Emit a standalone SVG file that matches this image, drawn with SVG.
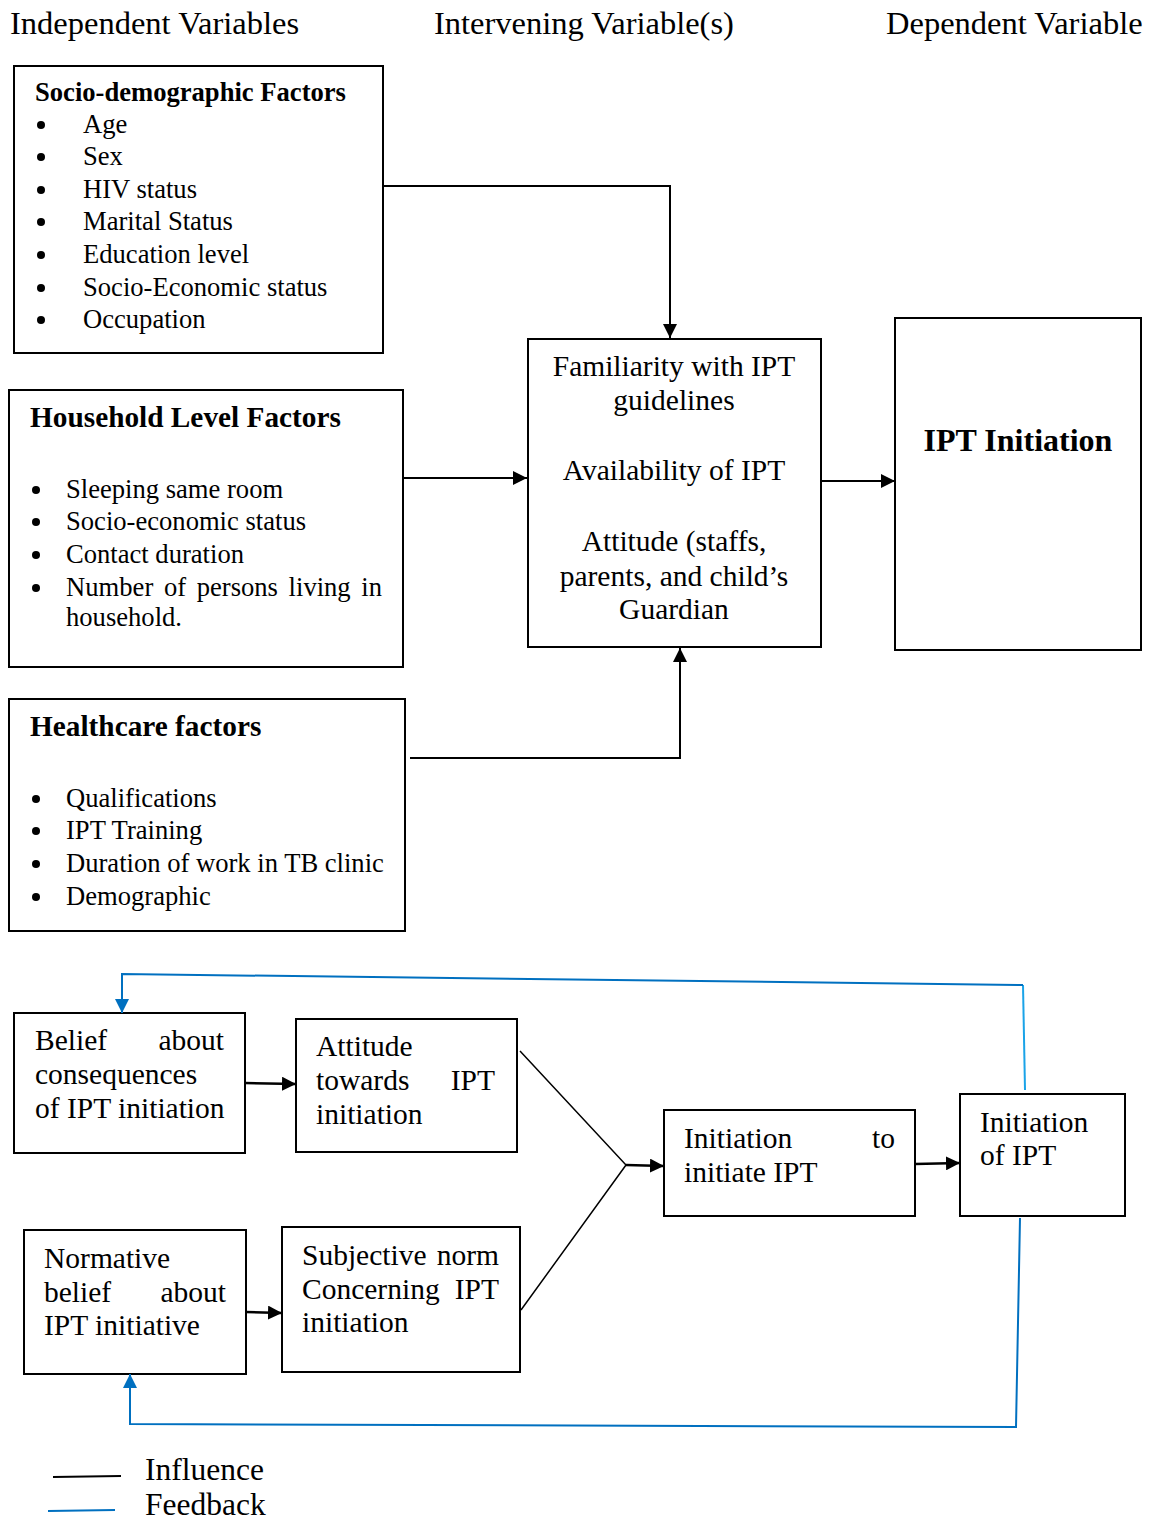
<svg xmlns="http://www.w3.org/2000/svg" width="1157" height="1519" viewBox="0 0 1157 1519">
<style>
text{font-family:"Liberation Serif","Times New Roman",serif;fill:#000}
.h{font-size:32.5px}
.t{font-size:26.6px}
.b{font-size:26.6px;font-weight:bold}
.b2{font-size:29.3px;font-weight:bold}
.c{font-size:29.5px}
.box{fill:#fff;stroke:#000;stroke-width:2}
.ln{fill:none;stroke:#000;stroke-width:2}
.fb{fill:none;stroke:#0070c0;stroke-width:2}
.fb2{fill:none;stroke:#1aa3e8;stroke-width:2}
.e{text-anchor:end}
</style>
<defs>
<marker id="ahk" viewBox="0 0 10 10" refX="10" refY="5" markerWidth="14" markerHeight="14" markerUnits="userSpaceOnUse" orient="auto"><path d="M0,0 L10,5 L0,10 z" fill="#000"/></marker>
<marker id="ahb" viewBox="0 0 10 10" refX="10" refY="5" markerWidth="14" markerHeight="14" markerUnits="userSpaceOnUse" orient="auto"><path d="M0,0 L10,5 L0,10 z" fill="#0070c0"/></marker>
</defs>

<g id="headers">
<text class="h" x="10" y="34">Independent Variables</text>
<text class="h" x="434" y="34">Intervening Variable(s)</text>
<text class="h" x="886" y="34">Dependent Variable</text>
</g>

<g id="socio">
<rect class="box" x="14" y="66" width="369" height="287"/>
<text class="b" x="35" y="101">Socio-demographic Factors</text>
<circle cx="41" cy="125" r="4"/><text class="t" x="83" y="133">Age</text>
<circle cx="41" cy="157" r="4"/><text class="t" x="83" y="165">Sex</text>
<circle cx="41" cy="190" r="4"/><text class="t" x="83" y="198">HIV status</text>
<circle cx="41" cy="222" r="4"/><text class="t" x="83" y="230">Marital Status</text>
<circle cx="41" cy="255" r="4"/><text class="t" x="83" y="263">Education level</text>
<circle cx="41" cy="288" r="4"/><text class="t" x="83" y="296">Socio-Economic status</text>
<circle cx="41" cy="320" r="4"/><text class="t" x="83" y="328">Occupation</text>
</g>

<g id="household">
<rect class="box" x="9" y="390" width="394" height="277"/>
<text class="b2" x="30" y="427">Household Level Factors</text>
<circle cx="36" cy="490" r="4"/><text class="t" x="66" y="498">Sleeping same room</text>
<circle cx="36" cy="522" r="4"/><text class="t" x="66" y="530">Socio-economic status</text>
<circle cx="36" cy="555" r="4"/><text class="t" x="66" y="563">Contact duration</text>
<circle cx="36" cy="588" r="4"/>
<text class="t" x="382" y="596" text-anchor="end" word-spacing="4">Number of persons living in</text>
<text class="t" x="66" y="626">household.</text>
</g>

<g id="healthcare">
<rect class="box" x="9" y="699" width="396" height="232"/>
<text class="b2" x="30" y="736">Healthcare factors</text>
<circle cx="36" cy="799" r="4"/><text class="t" x="66" y="807">Qualifications</text>
<circle cx="36" cy="831" r="4"/><text class="t" x="66" y="839">IPT Training</text>
<circle cx="36" cy="864" r="4"/><text class="t" x="66" y="872">Duration of work in TB clinic</text>
<circle cx="36" cy="897" r="4"/><text class="t" x="66" y="905">Demographic</text>
</g>

<g id="intervening">
<rect class="box" x="528" y="339" width="293" height="308"/>
<g text-anchor="middle">
<text class="c" x="674" y="376">Familiarity with IPT</text>
<text class="c" x="674" y="410">guidelines</text>
<text class="c" x="674" y="480">Availability of IPT</text>
<text class="c" x="674" y="551">Attitude (staffs,</text>
<text class="c" x="674" y="586">parents, and child’s</text>
<text class="c" x="674" y="619">Guardian</text>
</g>
</g>

<g id="dependent">
<rect class="box" x="895" y="318" width="246" height="332"/>
<text x="1018" y="451" text-anchor="middle" style="font-size:32px;font-weight:bold">IPT Initiation</text>
</g>

<g id="belief">
<rect class="box" x="14" y="1013" width="231" height="140"/>
<text class="c" x="35" y="1050">Belief</text><text class="c e" x="224" y="1050">about</text>
<text class="c" x="35" y="1084">consequences</text>
<text class="c" x="35" y="1118">of IPT initiation</text>
</g>

<g id="attitude">
<rect class="box" x="296" y="1019" width="221" height="133"/>
<text class="c" x="316" y="1056">Attitude</text>
<text class="c" x="316" y="1090">towards</text><text class="c e" x="495" y="1090">IPT</text>
<text class="c" x="316" y="1124">initiation</text>
</g>

<g id="normative">
<rect class="box" x="24" y="1230" width="222" height="144"/>
<text class="c" x="44" y="1268">Normative</text>
<text class="c" x="44" y="1302">belief</text><text class="c e" x="226" y="1302">about</text>
<text class="c" x="44" y="1335">IPT initiative</text>
</g>

<g id="subjective">
<rect class="box" x="282" y="1227" width="238" height="145"/>
<text class="c" x="302" y="1265">Subjective</text><text class="c e" x="499" y="1265">norm</text>
<text class="c" x="302" y="1299">Concerning</text><text class="c e" x="499" y="1299">IPT</text>
<text class="c" x="302" y="1332">initiation</text>
</g>

<g id="intention">
<rect class="box" x="664" y="1110" width="251" height="106"/>
<text class="c" x="684" y="1148">Initiation</text><text class="c e" x="895" y="1148">to</text>
<text class="c" x="684" y="1182">initiate IPT</text>
</g>

<g id="initiation">
<rect class="box" x="960" y="1094" width="165" height="122"/>
<text class="c" x="980" y="1132">Initiation</text>
<text class="c" x="980" y="1165">of IPT</text>
</g>

<g id="connectors">
<polyline class="ln" points="383,186 670,186 670,338" marker-end="url(#ahk)"/>
<line class="ln" x1="403" y1="478" x2="527" y2="478" marker-end="url(#ahk)"/>
<polyline class="ln" points="410,758 680,758 680,648" marker-end="url(#ahk)"/>
<line class="ln" x1="821" y1="481" x2="895" y2="481" marker-end="url(#ahk)"/>
<line class="ln" style="stroke-width:2.5" x1="245" y1="1083" x2="296" y2="1084" marker-end="url(#ahk)"/>
<line class="ln" style="stroke-width:2.5" x1="246" y1="1312" x2="282" y2="1313" marker-end="url(#ahk)"/>
<polyline class="ln" style="stroke-width:1.5" points="520,1051 626,1165 521,1310"/>
<line class="ln" style="stroke-width:2.5" x1="626" y1="1165" x2="664" y2="1166" marker-end="url(#ahk)"/>
<line class="ln" style="stroke-width:2.5" x1="915" y1="1164" x2="960" y2="1163" marker-end="url(#ahk)"/>
<line class="fb2" x1="1025" y1="1090" x2="1023" y2="985"/>
<polyline class="fb" points="1023,985 122,974 122,1013" marker-end="url(#ahb)"/>
<polyline class="fb" points="1020,1218 1016,1427 130,1424 130,1374" marker-end="url(#ahb)"/>
</g>

<g id="legend">
<line x1="53" y1="1477" x2="121" y2="1476" stroke="#000" stroke-width="2"/>
<text class="h" x="145" y="1480" style="font-size:31.5px">Influence</text>
<line x1="48" y1="1511" x2="115" y2="1510" stroke="#0070c0" stroke-width="2"/>
<text class="h" x="145" y="1515" style="font-size:31.5px">Feedback</text>
</g>
</svg>
